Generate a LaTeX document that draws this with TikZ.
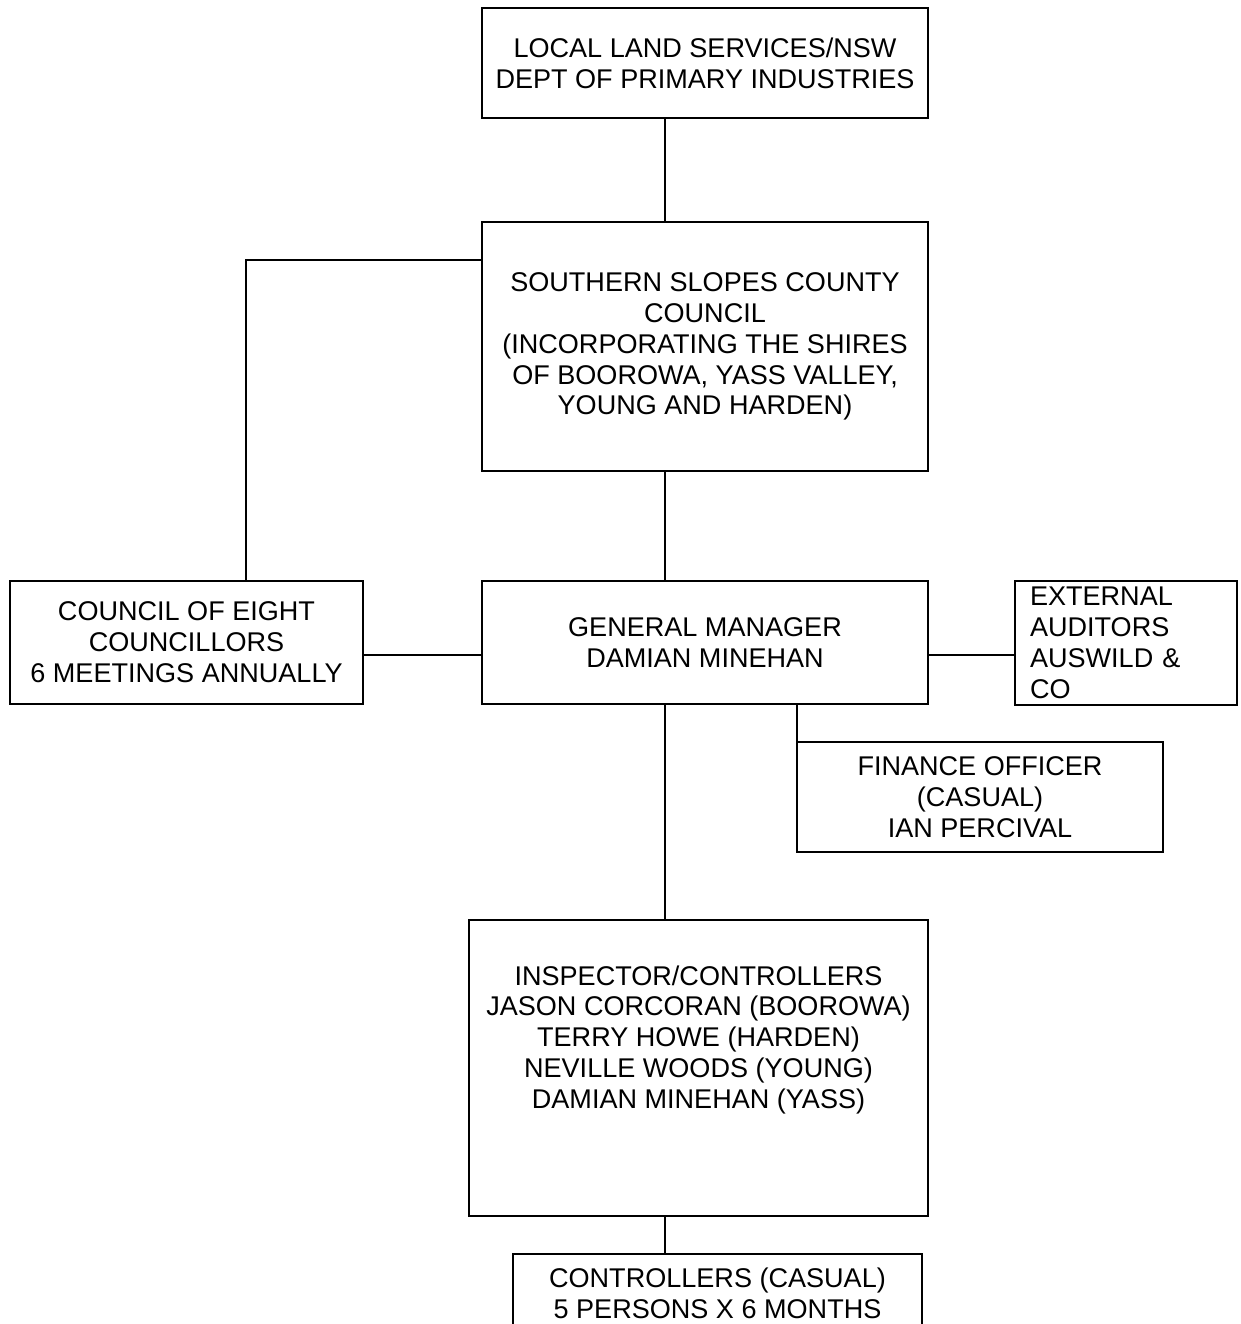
\documentclass[tikz,border=0pt]{standalone}
\usepackage{fontspec}
\setmainfont{Liberation Sans}
\usetikzlibrary{positioning}

\begin{document}
\begin{tikzpicture}[
    x=0.02cm, y=-0.02cm,
    unit/.style={
        rectangle, draw=black, line width=1.1pt, inner sep=0pt,
        align=center, font=\fontsize{15.4}{17.6}\selectfont
    },
    link/.style={line width=1.1pt, draw=black},
]
\useasboundingbox[fill=white] (0,0) rectangle (1240,1324);

% Boxes
\node[unit, minimum width=446*0.02cm, minimum height=110*0.02cm] (lls) at (705,63)
    {LOCAL LAND SERVICES/NSW\\DEPT OF PRIMARY INDUSTRIES};
\node[unit, minimum width=446*0.02cm, minimum height=249*0.02cm] (sscc) at (705,346.5)
    {SOUTHERN SLOPES COUNTY\\COUNCIL\\(INCORPORATING THE SHIRES\\OF BOOROWA, YASS VALLEY,\\YOUNG AND HARDEN)};
\node[unit, minimum width=353*0.02cm, minimum height=123*0.02cm] (council) at (186.5,642.5)
    {COUNCIL OF EIGHT\\COUNCILLORS\\6 MEETINGS ANNUALLY};
\node[unit, minimum width=446*0.02cm, minimum height=123*0.02cm] (gm) at (705,642.5)
    {GENERAL MANAGER\\DAMIAN MINEHAN};
\node[unit, align=left, text width=192*0.02cm, inner xsep=15*0.02cm,
      minimum height=124*0.02cm] (ext) at (1126,643)
    {EXTERNAL\\AUDITORS\\AUSWILD \&\\CO};
\node[unit, minimum width=366*0.02cm, minimum height=110*0.02cm] (fin) at (980,797)
    {FINANCE OFFICER\\(CASUAL)\\IAN PERCIVAL};
\node[unit, minimum width=459*0.02cm, minimum height=296*0.02cm] (insp) at (698.5,1068)
    {INSPECTOR/CONTROLLERS\\JASON CORCORAN (BOOROWA)\\TERRY HOWE (HARDEN)\\NEVILLE WOODS (YOUNG)\\DAMIAN MINEHAN (YASS)\\\mbox{}\\\mbox{}};
\node[unit, minimum width=409*0.02cm, minimum height=110*0.02cm] (ctrl) at (717.5,1309)
    {CONTROLLERS (CASUAL)\\5 PERSONS X 6 MONTHS\\\mbox{}};

% Helper coordinates
\coordinate (spine) at (665,0);
\coordinate (lft) at (246,260);
\coordinate (mid) at (0,655);
\coordinate (tap) at (797,0);

% Connectors
\draw[link] (lls.south -| spine) -- (sscc.north -| spine);
\draw[link] (sscc.south -| spine) -- (gm.north -| spine);
\draw[link] (sscc.west |- lft) -| (council.north -| lft);
\draw[link] (council.east |- mid) -- (gm.west |- mid);
\draw[link] (gm.east |- mid) -- (ext.west |- mid);
\draw[link] (gm.south -| tap) -- (fin.north -| tap);
\draw[link] (gm.south -| spine) -- (insp.north -| spine);
\draw[link] (insp.south -| spine) -- (ctrl.north -| spine);

\end{tikzpicture}
\end{document}
